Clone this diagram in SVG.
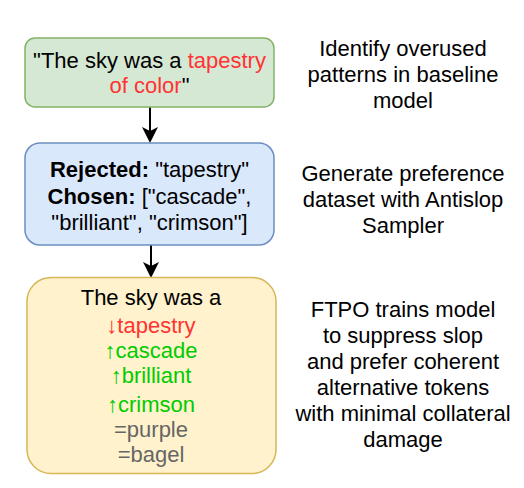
<svg xmlns="http://www.w3.org/2000/svg" width="524" height="488" viewBox="0 0 524 488">
<style>
text{font-family:"Liberation Sans",Arial,sans-serif;font-size:22px;fill:#000;text-anchor:middle}
.red{fill:#FF3333}
.grn{fill:#00CC00}
.gry{fill:#666666}
.b{font-weight:bold}
.conn{stroke:#000;stroke-width:2;fill:none}
</style>
<defs>
<marker id="arr" viewBox="0 0 16 16" refX="4" refY="8" markerWidth="16" markerHeight="16" markerUnits="userSpaceOnUse" orient="auto">
<path d="M0,0 L16,8 L0,16 L4,8 Z" fill="#000"/>
</marker>
</defs>
<rect width="524" height="488" fill="#fff"/>
<g id="connectors">
<line class="conn" x1="150" y1="107" x2="150" y2="131" marker-end="url(#arr)"/>
<line class="conn" x1="151" y1="245" x2="151" y2="266" marker-end="url(#arr)"/>
</g>
<g id="node-baseline">
<rect x="25" y="38" width="249" height="69" rx="10" fill="#d5e8d4" stroke="#82b366" stroke-width="1.5"/>
<text x="149.5" y="67.5">"The sky was a <tspan class="red">tapestry</tspan></text>
<text x="149.5" y="93"><tspan class="red">of color</tspan>"</text>
</g>
<g id="node-dataset">
<rect x="25" y="143" width="249" height="102" rx="15" fill="#dae8fc" stroke="#6c8ebf" stroke-width="1.5"/>
<text x="149.5" y="177"><tspan class="b">Rejected:</tspan> "tapestry"</text>
<text x="149.5" y="203.5"><tspan class="b">Chosen:</tspan> ["cascade",</text>
<text x="149.5" y="230">"brilliant", "crimson"]</text>
</g>
<g id="node-ftpo">
<rect x="27" y="277.5" width="249" height="196" rx="24" fill="#fff2cc" stroke="#d6b656" stroke-width="1.5"/>
<text x="151" y="305">The sky was a</text>
<text x="151" y="333" class="red">↓tapestry</text>
<text x="151" y="357.5" class="grn">↑cascade</text>
<text x="151" y="383" class="grn">↑brilliant</text>
<text x="151" y="411.5" class="grn">↑crimson</text>
<text x="151" y="436.5" class="gry">=purple</text>
<text x="151" y="461.5" class="gry">=bagel</text>
</g>
<g id="label-identify">
<text x="403" y="55.5">Identify overused</text>
<text x="403" y="81.5">patterns in baseline</text>
<text x="403" y="107.5">model</text>
</g>
<g id="label-generate">
<text x="403" y="181">Generate preference</text>
<text x="403" y="207">dataset with Antislop</text>
<text x="403" y="233">Sampler</text>
</g>
<g id="label-ftpo">
<text x="403" y="317">FTPO trains model</text>
<text x="403" y="343">to suppress slop</text>
<text x="403" y="369">and prefer coherent</text>
<text x="403" y="395">alternative tokens</text>
<text x="403" y="421">with minimal collateral</text>
<text x="403" y="447">damage</text>
</g>
</svg>
